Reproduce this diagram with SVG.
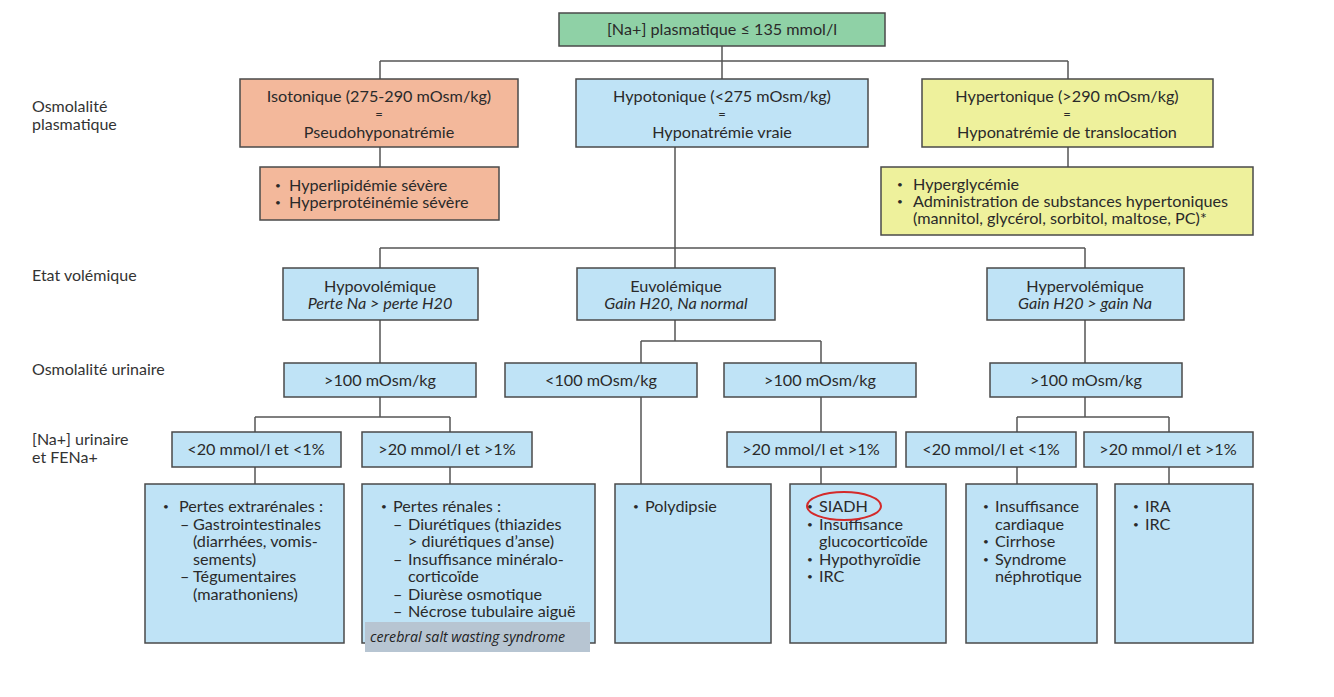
<svg xmlns="http://www.w3.org/2000/svg" width="1334" height="697" viewBox="0 0 1334 697">
<style>
  text { font-family: "Lato", "Liberation Sans", sans-serif; fill: #2a2a2a; font-size: 16.2px; }
  .c { text-anchor: middle; }
  .it { font-style: italic; }
  .eq { font-size: 13px; }
  .lbl { font-size: 16px; fill: #333; }
  .b { font-size: 10px; }
  .box { stroke: #4a4a4a; stroke-width: 1.5; }
  .blue { fill: #bfe3f6; }
  .green { fill: #8fd1a6; }
  .salmon { fill: #f3b89b; }
  .yellow { fill: #eef19c; }
  .conn line { stroke: #555; stroke-width: 1.5; }
  .band { fill: #b7c5d2; }
  .bandtxt { font-family: "Open Sans", "Liberation Sans", sans-serif; font-style: italic; font-size: 14.2px; fill: #222; }
</style>
<rect width="1334" height="697" fill="#ffffff"/>

<g id="connectors" class="conn">
  <line x1="722" y1="46" x2="722" y2="61"/>
  <line x1="380" y1="61" x2="1068" y2="61"/>
  <line x1="380" y1="61" x2="380" y2="79"/>
  <line x1="722" y1="61" x2="722" y2="79"/>
  <line x1="1068" y1="61" x2="1068" y2="79"/>
  <line x1="380" y1="147" x2="380" y2="167"/>
  <line x1="1068" y1="147" x2="1068" y2="167"/>
  <line x1="675" y1="147" x2="675" y2="268"/>
  <line x1="380" y1="248" x2="1085" y2="248"/>
  <line x1="380" y1="248" x2="380" y2="268"/>
  <line x1="1085" y1="248" x2="1085" y2="268"/>
  <line x1="380" y1="320" x2="380" y2="363"/>
  <line x1="380" y1="397" x2="380" y2="417"/>
  <line x1="255" y1="417" x2="450" y2="417"/>
  <line x1="255" y1="417" x2="255" y2="432"/>
  <line x1="450" y1="417" x2="450" y2="432"/>
  <line x1="255" y1="467" x2="255" y2="484"/>
  <line x1="450" y1="467" x2="450" y2="484"/>
  <line x1="675" y1="320" x2="675" y2="341"/>
  <line x1="641" y1="341" x2="821" y2="341"/>
  <line x1="641" y1="341" x2="641" y2="363"/>
  <line x1="821" y1="341" x2="821" y2="363"/>
  <line x1="641" y1="397" x2="641" y2="484"/>
  <line x1="821" y1="397" x2="821" y2="432"/>
  <line x1="821" y1="467" x2="821" y2="484"/>
  <line x1="1085" y1="320" x2="1085" y2="363"/>
  <line x1="1085" y1="397" x2="1085" y2="417"/>
  <line x1="1017" y1="417" x2="1169" y2="417"/>
  <line x1="1017" y1="417" x2="1017" y2="432"/>
  <line x1="1169" y1="417" x2="1169" y2="432"/>
  <line x1="1017" y1="467" x2="1017" y2="484"/>
  <line x1="1169" y1="467" x2="1169" y2="484"/>
</g>

<g id="row-labels">
  <text class="lbl" x="32" y="112">Osmolalité</text>
  <text class="lbl" x="32" y="130">plasmatique</text>
  <text class="lbl" x="32" y="281">Etat volémique</text>
  <text class="lbl" x="32" y="375">Osmolalité urinaire</text>
  <text class="lbl" x="32" y="445">[Na+] urinaire</text>
  <text class="lbl" x="32" y="463">et FENa+</text>
</g>

<g id="n-root">
  <rect class="box green" x="559" y="13" width="326" height="33"/>
  <text class="c" x="722" y="35">[Na+] plasmatique ≤ 135 mmol/l</text>
</g>

<g id="n-isotonique">
  <rect class="box salmon" x="240" y="79" width="278" height="68"/>
  <text class="c" x="379" y="102">Isotonique (275-290 mOsm/kg)</text>
  <text class="c eq" x="379" y="118.5">=</text>
  <text class="c" x="379" y="138">Pseudohyponatrémie</text>
</g>

<g id="n-hypotonique">
  <rect class="box blue" x="576" y="79" width="292" height="68"/>
  <text class="c" x="722" y="102">Hypotonique (&lt;275 mOsm/kg)</text>
  <text class="c eq" x="722" y="118.5">=</text>
  <text class="c" x="722" y="138">Hyponatrémie vraie</text>
</g>

<g id="n-hypertonique">
  <rect class="box yellow" x="922" y="79" width="291" height="68"/>
  <text class="c" x="1067" y="102">Hypertonique (&gt;290 mOsm/kg)</text>
  <text class="c eq" x="1067" y="118.5">=</text>
  <text class="c" x="1067" y="138">Hyponatrémie de translocation</text>
</g>

<g id="n-pseudo-causes">
  <rect class="box salmon" x="260" y="167" width="239" height="53"/>
  <text class="b" x="275" y="189">•</text><text x="289" y="191">Hyperlipidémie sévère</text>
  <text class="b" x="275" y="206">•</text><text x="289" y="208">Hyperprotéinémie sévère</text>
</g>

<g id="n-translocation-causes">
  <rect class="box yellow" x="881" y="167" width="372" height="68"/>
  <text class="b" x="897" y="188">•</text><text x="913" y="190">Hyperglycémie</text>
  <text class="b" x="897" y="205">•</text><text x="913" y="207">Administration de substances hypertoniques</text>
  <text x="913" y="224">(mannitol, glycérol, sorbitol, maltose, PC)*</text>
</g>

<g id="n-hypovolemique">
  <rect class="box blue" x="283" y="268" width="195" height="52"/>
  <text class="c" x="380" y="292">Hypovolémique</text>
  <text class="c it" x="380" y="309">Perte Na &gt; perte H20</text>
</g>

<g id="n-euvolemique">
  <rect class="box blue" x="577" y="268" width="198" height="52"/>
  <text class="c" x="676" y="292">Euvolémique</text>
  <text class="c it" x="676" y="309">Gain H20, Na normal</text>
</g>

<g id="n-hypervolemique">
  <rect class="box blue" x="987" y="268" width="197" height="52"/>
  <text class="c" x="1085" y="292">Hypervolémique</text>
  <text class="c it" x="1085" y="309">Gain H20 &gt; gain Na</text>
</g>

<g id="n-uosm-hypo">
  <rect class="box blue" x="284" y="363" width="192" height="34"/>
  <text class="c" x="380" y="386">&gt;100 mOsm/kg</text>
</g>
<g id="n-uosm-eu-low">
  <rect class="box blue" x="505" y="363" width="192" height="34"/>
  <text class="c" x="601" y="386">&lt;100 mOsm/kg</text>
</g>
<g id="n-uosm-eu-high">
  <rect class="box blue" x="724" y="363" width="192" height="34"/>
  <text class="c" x="820" y="386">&gt;100 mOsm/kg</text>
</g>
<g id="n-uosm-hyper">
  <rect class="box blue" x="990" y="363" width="192" height="34"/>
  <text class="c" x="1086" y="386">&gt;100 mOsm/kg</text>
</g>

<g id="n-una-hypo-low">
  <rect class="box blue" x="172" y="432" width="169" height="35"/>
  <text class="c" x="256" y="455">&lt;20 mmol/l et &lt;1%</text>
</g>
<g id="n-una-hypo-high">
  <rect class="box blue" x="362" y="432" width="170" height="35"/>
  <text class="c" x="447" y="455">&gt;20 mmol/l et &gt;1%</text>
</g>
<g id="n-una-eu-high">
  <rect class="box blue" x="727" y="432" width="169" height="35"/>
  <text class="c" x="811" y="455">&gt;20 mmol/l et &gt;1%</text>
</g>
<g id="n-una-hyper-low">
  <rect class="box blue" x="906" y="432" width="170" height="35"/>
  <text class="c" x="991" y="455">&lt;20 mmol/l et &lt;1%</text>
</g>
<g id="n-una-hyper-high">
  <rect class="box blue" x="1084" y="432" width="169" height="35"/>
  <text class="c" x="1168" y="455">&gt;20 mmol/l et &gt;1%</text>
</g>

<g id="n-extrarenales">
  <rect class="box blue" x="145" y="484" width="199" height="159"/>
  <text class="b" x="163" y="510">•</text><text x="179" y="512">Pertes extrarénales :</text>
  <text x="180" y="530">–</text><text x="193" y="530">Gastrointestinales</text>
  <text x="193" y="547">(diarrhées, vomis-</text>
  <text x="193" y="565">sements)</text>
  <text x="180" y="582">–</text><text x="193" y="582">Tégumentaires</text>
  <text x="193" y="600">(marathoniens)</text>
</g>

<g id="n-renales">
  <rect class="box blue" x="362" y="484" width="233" height="159"/>
  <text class="b" x="381" y="510">•</text><text x="393" y="512">Pertes rénales :</text>
  <text x="393" y="530">–</text><text x="408" y="530">Diurétiques (thiazides</text>
  <text x="408" y="547">&gt; diurétiques d’anse)</text>
  <text x="393" y="565">–</text><text x="408" y="565">Insuffisance minéralo-</text>
  <text x="408" y="582">corticoïde</text>
  <text x="393" y="600">–</text><text x="408" y="600">Diurèse osmotique</text>
  <text x="393" y="617">–</text><text x="408" y="617">Nécrose tubulaire aiguë</text>
  <rect class="band" x="365" y="622" width="225" height="30"/>
  <text class="bandtxt" x="370" y="642">cerebral salt wasting syndrome</text>
</g>

<g id="n-polydipsie">
  <rect class="box blue" x="615" y="484" width="156" height="159"/>
  <text class="b" x="633" y="510">•</text><text x="645" y="512">Polydipsie</text>
</g>

<g id="n-siadh">
  <rect class="box blue" x="790" y="484" width="156" height="159"/>
  <text class="b" x="807" y="510">•</text><text x="819" y="512">SIADH</text>
  <text class="b" x="807" y="528">•</text><text x="819" y="530">Insuffisance</text>
  <text x="819" y="547">glucocorticoïde</text>
  <text class="b" x="807" y="563">•</text><text x="819" y="565">Hypothyroïdie</text>
  <text class="b" x="807" y="580">•</text><text x="819" y="582">IRC</text>
  <ellipse cx="844" cy="506" rx="37" ry="14" fill="none" stroke="#d42a2a" stroke-width="2"/>
</g>

<g id="n-hypervol-low">
  <rect class="box blue" x="966" y="484" width="131" height="159"/>
  <text class="b" x="983" y="510">•</text><text x="995" y="512">Insuffisance</text>
  <text x="995" y="530">cardiaque</text>
  <text class="b" x="983" y="545">•</text><text x="995" y="547">Cirrhose</text>
  <text class="b" x="983" y="563">•</text><text x="995" y="565">Syndrome</text>
  <text x="995" y="582">néphrotique</text>
</g>

<g id="n-hypervol-high">
  <rect class="box blue" x="1115" y="484" width="138" height="159"/>
  <text class="b" x="1133" y="510">•</text><text x="1145" y="512">IRA</text>
  <text class="b" x="1133" y="528">•</text><text x="1145" y="530">IRC</text>
</g>
</svg>
